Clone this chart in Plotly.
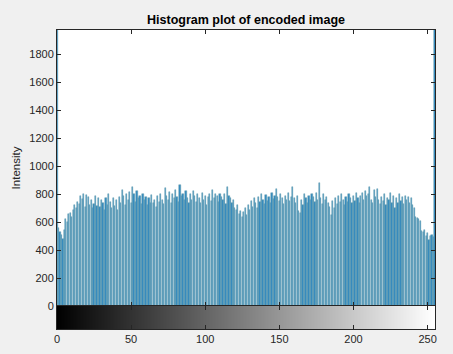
import plotly.graph_objects as go

bins = list(range(256))
counts = [
    2600, 560, 530, 505, 480, 545, 620, 600, 655, 665, 640, 690, 720, 700, 745, 730,
    790, 765, 800, 705, 795, 780, 720, 760, 700, 730, 790, 715, 770, 705, 760, 735,
    690, 775, 720, 800, 745, 700, 770, 715, 760, 690, 780, 740, 830, 790, 720, 805,
    760, 815, 735, 850, 800, 745, 820, 770, 790, 730, 805, 760, 780, 725, 770, 740,
    795, 735, 760, 710, 785, 745, 800, 760, 730, 843, 790, 760, 815, 740, 805, 770,
    830, 780, 745, 864, 790, 805, 760, 820, 775, 740, 800, 760, 820, 785, 745, 800,
    770, 735, 810, 760, 790, 720, 780, 800, 750, 828, 770, 800, 785, 745, 805, 780,
    760, 800, 730, 850, 790, 770, 740, 760, 700, 690, 720, 660, 680, 636, 670, 700,
    650, 720, 690, 750, 710, 770, 740, 700, 780, 745, 800, 760, 730, 795, 750, 780,
    740, 810, 765, 790, 836, 780, 750, 800, 770, 730, 790, 760, 810, 750, 780, 850,
    770, 740, 790, 680, 664, 760, 720, 800, 770, 740, 790, 760, 800, 780, 745, 810,
    760, 878, 770, 730, 800, 760, 780, 740, 710, 650, 750, 700, 770, 730, 790, 745,
    800, 760, 720, 780, 745, 800, 770, 740, 790, 750, 810, 775, 740, 790, 810, 760,
    820, 790, 800, 852, 760, 740, 830, 780, 835, 760, 730, 780, 750, 800, 720, 770,
    760, 810, 740, 790, 700, 770, 740, 805, 750, 780, 730, 790, 760, 780, 740, 770,
    720, 700, 640, 630, 620, 610, 540, 530, 545, 500, 520, 470, 500, 510, 495, 2600,
]
y_ticks = [0, 200, 400, 600, 800, 1000, 1200, 1400, 1600, 1800]
x_ticks = [0, 50, 100, 150, 200, 250]
gray_levels = list(range(256))

fig = go.Figure()
fig.add_trace(go.Bar(
    x=bins, y=counts, width=0.8,
    marker=dict(color="#3089c0", line=dict(color="#6a9fac", width=0.5)),
    xaxis="x", yaxis="y", showlegend=False,
))
fig.add_trace(go.Heatmap(
    x=gray_levels, y=[0], z=[gray_levels],
    colorscale=[[0, "#000000"], [1, "#ffffff"]], showscale=False,
    xaxis="x2", yaxis="y2", hoverinfo="skip",
))

tick_font = dict(family="Liberation Sans, Arial", size=11, color="#262626")
cb_frac = 23 / 299

fig.update_layout(
    width=453, height=354,
    margin=dict(l=57, r=18, t=30, b=25, autoexpand=False),
    paper_bgcolor="#f0f0f0", plot_bgcolor="#ffffff",
    bargap=0,
    title=dict(text="<b>Histogram plot of encoded image</b>", x=0.5, xanchor="center",
               xref="paper", y=1 - 20 / 354, yanchor="middle",
               font=dict(family="Liberation Sans, Arial", size=12.5, color="#000000")),
    xaxis=dict(domain=[0, 1], anchor="y", range=[0, 255], tickvals=x_ticks,
               showticklabels=False, ticks="inside", ticklen=4, tickcolor="#262626",
               showline=True, linecolor="#262626", linewidth=1, mirror="ticks",
               showgrid=False, zeroline=False, automargin=False),
    yaxis=dict(domain=[cb_frac, 1], anchor="x", range=[0, 1975], tickvals=y_ticks,
               ticks="inside", ticklen=4, tickcolor="#262626", tickfont=tick_font,
               showline=True, linecolor="#262626", linewidth=1, mirror="ticks",
               showgrid=False, zeroline=False, automargin=False,
               title=dict(text="Intensity", font=dict(family="Liberation Sans, Arial", size=11.5, color="#262626"),
                          standoff=6)),
    xaxis2=dict(domain=[0, 1], anchor="y2", range=[0, 255], tickvals=x_ticks,
                ticks="inside", ticklen=4, tickcolor="#262626", tickfont=tick_font,
                showline=True, linecolor="#262626", linewidth=1, mirror="ticks",
                showgrid=False, zeroline=False, automargin=False),
    yaxis2=dict(domain=[0, cb_frac], anchor="x2", range=[-0.5, 0.5],
                showticklabels=False, ticks="", showline=True, linecolor="#262626",
                linewidth=1, mirror=True, showgrid=False, zeroline=False, automargin=False),
)

fig.write_html("out.html", config={"displayModeBar": False},
               post_script="document.body.style.margin='0px';document.body.style.background='#f0f0f0';")
